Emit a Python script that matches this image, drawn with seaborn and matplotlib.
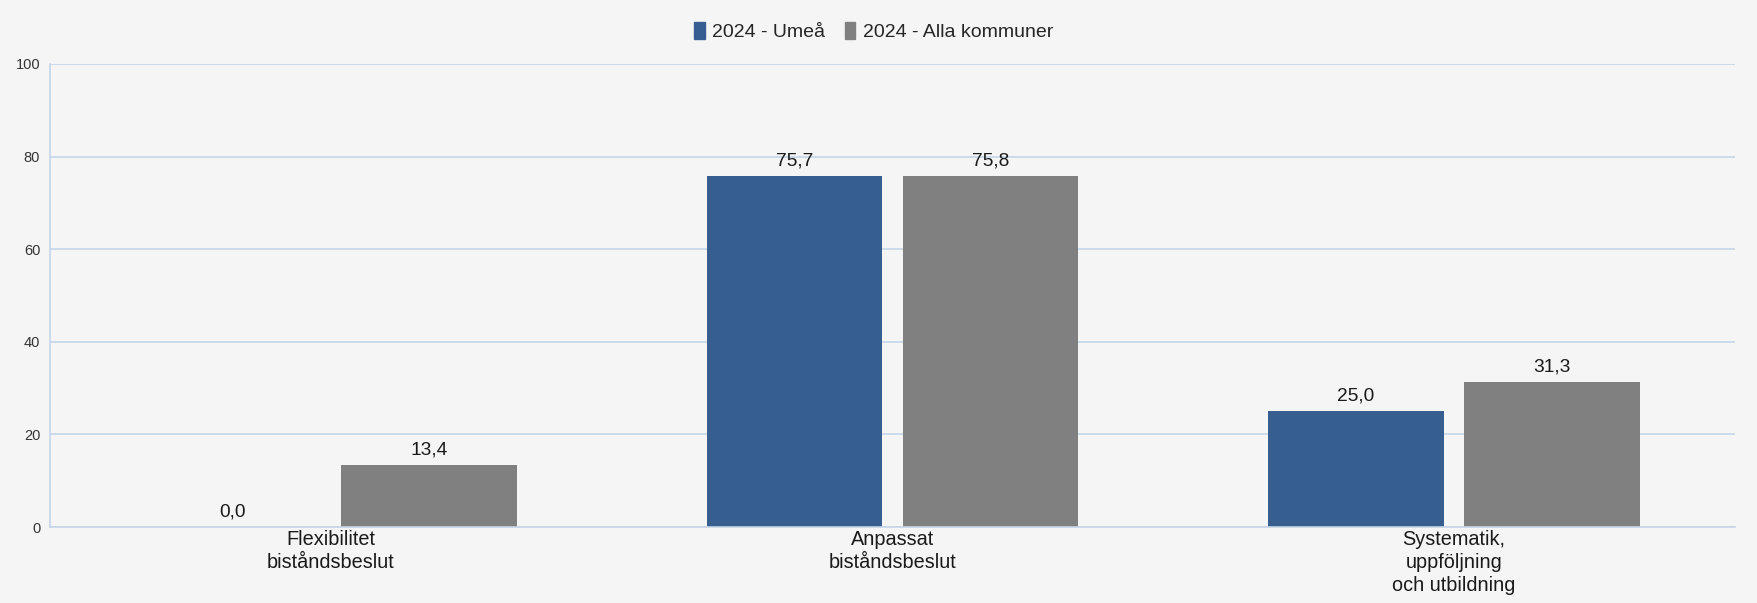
import matplotlib
matplotlib.use("Agg")
import matplotlib.pyplot as plt
import seaborn as sns
import pandas as pd

categories = ["Flexibilitet\nbiståndsbeslut", "Anpassat\nbiståndsbeslut", "Systematik,\nuppföljning\noch utbildning"]
series_names = ["2024 - Umeå", "2024 - Alla kommuner"]
umea = [0.0, 75.7, 25.0]
alla = [13.4, 75.8, 31.3]
y_ticks = [0, 20, 40, 60, 80, 100]

colors = {"2024 - Umeå": "#365f8f", "2024 - Alla kommuner": "#808080"}

df = pd.DataFrame({
    "kategori": categories * 2,
    "serie": [series_names[0]] * 3 + [series_names[1]] * 3,
    "värde": umea + alla,
})

sns.set_theme(style="white")
plt.rcParams["font.family"] = ["Liberation Sans", "DejaVu Sans"]

bg = "#f5f5f5"
grid_c = "#c6d5e8"
fig = plt.figure(figsize=(17.58, 6.03), dpi=100, facecolor=bg)
ax = fig.add_axes([0.0284, 0.126, 0.9585, 0.768])
ax.set_facecolor(bg)

sns.barplot(data=df, x="kategori", y="värde", hue="serie", hue_order=series_names,
            order=categories, palette=colors, width=0.698, gap=0.103,
            ax=ax, legend=True, saturation=1, edgecolor="none", linewidth=0)

ax.set_xlim(-0.5, 2.5)
ax.set_ylim(0, 100)
ax.set_yticks(y_ticks)
ax.set_yticklabels([str(t) for t in y_ticks], fontsize=10.5, color="#333333")
ax.tick_params(axis="x", labelsize=14.3, colors="#1a1a1a", length=0, pad=2)
for lbl in ax.get_xticklabels():
    lbl.set_linespacing(1.27)
ax.tick_params(axis="y", length=0, pad=7)
ax.set_xlabel("")
ax.set_ylabel("")
ax.grid(axis="y", color=grid_c, linewidth=1.2)
ax.set_axisbelow(True)
for s in ["top", "right"]:
    ax.spines[s].set_visible(False)
ax.spines["left"].set_color(grid_c)
ax.spines["bottom"].set_color(grid_c)
ax.spines["left"].set_linewidth(1.2)
ax.spines["bottom"].set_linewidth(1.2)

for cont in ax.containers:
    ax.bar_label(cont, labels=[f"{v:.1f}".replace(".", ",") for v in cont.datavalues],
                 padding=5, fontsize=13.8, color="#1a1a1a")

ax.get_legend().remove()
handles = [plt.Rectangle((0, 0), 1, 1, color=colors[n]) for n in series_names]
fig.legend(handles, series_names, loc="center", bbox_to_anchor=(0.497, 0.948), ncol=2,
           frameon=False, fontsize=14, handlelength=0.55, handleheight=1.0,
           handletextpad=0.4, columnspacing=1.0)

fig.savefig("out.png", dpi=100, facecolor=bg)
